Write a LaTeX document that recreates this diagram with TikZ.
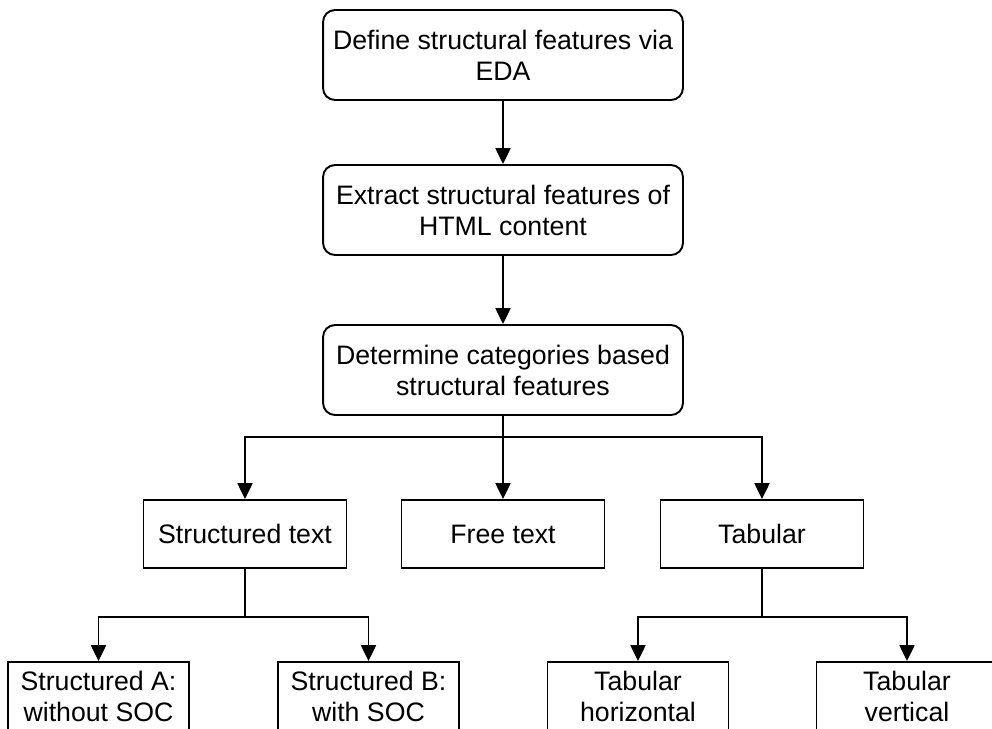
\documentclass[tikz,border=0pt]{standalone}
\usepackage{fontspec}
\setmainfont{Liberation Sans}
\usetikzlibrary{arrows.meta}
\begin{document}
\begin{tikzpicture}[
        x=0.02cm, y=-0.02cm,
        font=\fontsize{15.2}{17.6}\selectfont,
        stepbox/.style={rectangle, draw, line width=1.1pt, rounded corners=0.24cm, minimum width=7.2cm, minimum height=1.8cm, align=center},
        catbox/.style={rectangle, draw, line width=1.1pt, minimum width=4.06cm, minimum height=1.36cm, align=center},
        leafbox/.style={rectangle, draw, line width=1.1pt, minimum width=3.62cm, minimum height=1.36cm, align=center},
        arrow/.style={-{Triangle[width=8.5pt, length=9pt]}, line width=1.1pt}
    ]
        \clip (0,0) rectangle (992,728);

        \node[stepbox] (define) at (503,55) {Define structural features via\\EDA};
        \node[stepbox] (extract) at (503,210) {Extract structural features of\\HTML content};
        \node[stepbox] (determine) at (503,370) {Determine categories based\\structural features};

        \node[catbox] (structured) at (245,534) {Structured text};
        \node[catbox] (free) at (503,534) {Free text};
        \node[catbox] (tabular) at (762,534) {Tabular};

        \node[leafbox] (structA) at (98.5,696) {Structured A:\\without SOC};
        \node[leafbox] (structB) at (368.5,696) {Structured B:\\with SOC};
        \node[leafbox] (tabH) at (638,696) {Tabular\\horizontal};
        \node[leafbox] (tabV) at (907,696) {Tabular\\vertical};

        \coordinate (split) at (503,437);
        \coordinate (splitS) at (245,617);
        \coordinate (splitT) at (762,617);

        \draw[arrow] (define) -- (extract);
        \draw[arrow] (extract) -- (determine);
        \draw[arrow] (determine) -- (free);
        \draw[arrow] (determine.south) -- (split) -| (structured.north);
        \draw[arrow] (determine.south) -- (split) -| (tabular.north);
        \draw[arrow] (structured.south) -- (splitS) -| (structA.north);
        \draw[arrow] (structured.south) -- (splitS) -| (structB.north);
        \draw[arrow] (tabular.south) -- (splitT) -| (tabH.north);
        \draw[arrow] (tabular.south) -- (splitT) -| (tabV.north);
    \end{tikzpicture}
\end{document}
